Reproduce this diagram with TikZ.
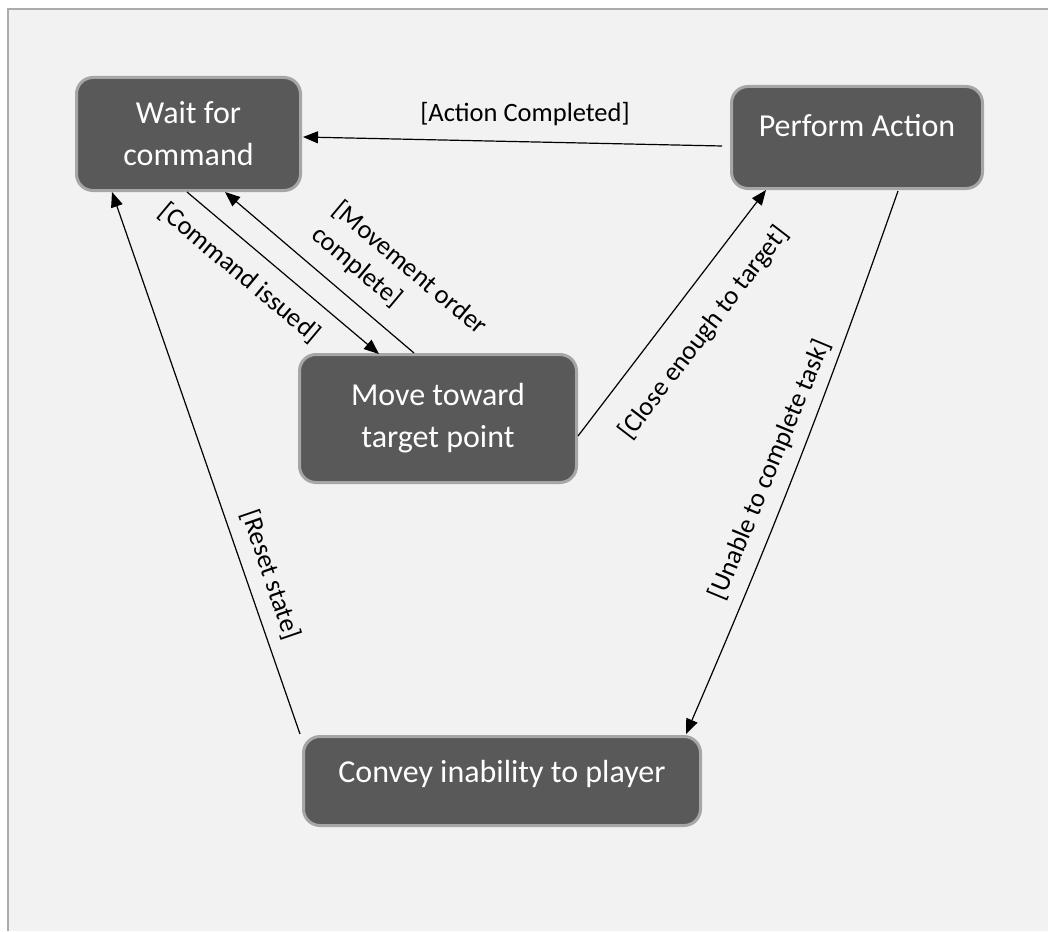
\documentclass[tikz,border=0pt]{standalone}
\usepackage{fontspec}
\setmainfont{Carlito}
\usetikzlibrary{arrows.meta}
\definecolor{nodefill}{HTML}{595959}
\definecolor{nodeborder}{HTML}{A6A6A6}
\definecolor{bgfill}{HTML}{F2F2F2}
\definecolor{framecol}{HTML}{ABABAB}
\begin{document}
\begin{tikzpicture}[x=1pt,y=-1pt,
  state/.style={draw=nodeborder, line width=3pt, fill=nodefill, rounded corners=16.5pt,
    text=white, font=\fontsize{32}{42}\selectfont, align=center, inner sep=0pt},
  trans/.style={line width=1.2pt, draw=black, -{Triangle[length=15pt,width=12pt]}},
  lab/.style={font=\fontsize{26.5}{33}\selectfont, inner sep=0pt, text=black}]
\path[use as bounding box] (0,0) rectangle (1048,931);
\fill[white] (0,0) rectangle (1048,931);
\fill[bgfill] (8,9) rectangle (1048,931);
\draw[framecol, line width=2.5pt] (8,931) -- (8,9) -- (1048,9);

\node[state, minimum width=224pt, minimum height=113pt] (wait) at (188.5,134) {Wait for\\command};
\node[state, minimum width=251pt, minimum height=102pt, text height=20pt, text depth=23pt] (perform) at (857,137.5) {Perform Action};
\node[state, minimum width=277pt, minimum height=128pt] (move) at (438,418.5) {Move toward\\target point};
\node[state, minimum width=397pt, minimum height=89pt, text height=21pt, text depth=19pt] (convey) at (502,781) {Convey inability to player};

\draw[trans] ([shift={(-135,8.5)}]perform.center) -- ([shift={(114.5,3)}]wait.center);
\draw[trans] ([shift={(-1.5,58)}]wait.center) -- ([shift={(-59,-64.5)}]move.center);
\draw[trans] ([shift={(-24,-65.5)}]move.center) -- ([shift={(36.5,58)}]wait.center);
\draw[trans] ([shift={(140,17.5)}]move.center) -- ([shift={(-91,52.5)}]perform.center);
\draw[trans] ([shift={(41,53.5)}]perform.center) to[bend left=2] ([shift={(184,-47)}]convey.center);
\draw[trans] ([shift={(-202,-47)}]convey.center) -- ([shift={(-76.5,58)}]wait.center);

\node[lab] (lAction) at (525,114) {[Action Completed]};
\node[lab, rotate=-40] (lCmd) at (240,273) {[Command issued]};
\node[lab, rotate=-40, align=left] (lMove) at (399,281) {[Movement order\\complete]};
\node[lab, rotate=52.5] (lClose) at (704,333) {[Close enough to target]};
\node[lab, rotate=67.5] (lUnable) at (770,470) {[Unable to complete task]};
\node[lab, rotate=-71] (lReset) at (271,575) {[Reset state]};
\end{tikzpicture}
\end{document}
